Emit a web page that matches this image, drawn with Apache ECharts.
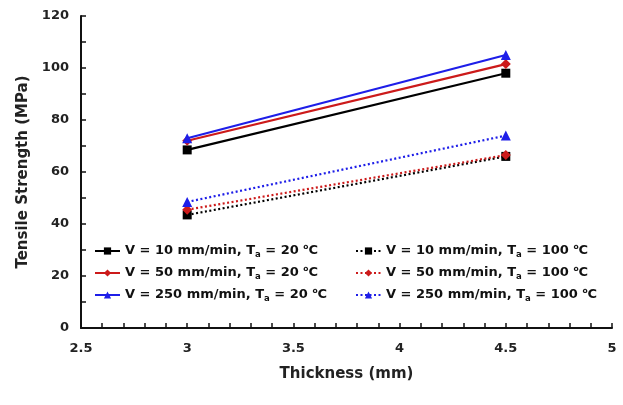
<!DOCTYPE html>
<html>
<head>
<meta charset="utf-8">
<script src="https://cdn.jsdelivr.net/npm/echarts@6/dist/echarts.min.js"></script>
<style>
  html, body { margin: 0; padding: 0; background: #fff; }
  #chart { width: 623px; height: 405px; }
</style>
</head>
<body>
<div id="chart"></div>
<script>
// thickness values (mm)
var thickness = [3, 4.5];

// tensile strength (MPa), Ta = 20 oC
var v10_20 = [68.5, 98];
var v50_20 = [72, 101.5];
var v250_20 = [73, 105];

// tensile strength (MPa), Ta = 100 oC
var v10_100 = [43.5, 66];
var v50_100 = [45.5, 66.5];
var v250_100 = [48.5, 74];

var names = [
    'V = 10 mm/min, T{sub|a} = 20 {sup|o}C',
    'V = 50 mm/min, T{sub|a} = 20 {sup|o}C',
    'V = 250 mm/min, T{sub|a} = 20 {sup|o}C',
    'V = 10 mm/min, T{sub|a} = 100 {sup|o}C',
    'V = 50 mm/min, T{sub|a} = 100 {sup|o}C',
    'V = 250 mm/min, T{sub|a} = 100 {sup|o}C'
];

function pairs(ys) {
    return thickness.map(function (x, i) { return [x, ys[i]]; });
}

function line(name, ys, color, symbol, dotted) {
    return {
        name: name,
        type: 'line',
        data: pairs(ys),
        symbol: symbol,
        symbolSize: symbol === 'rect' ? 9 : 10,
        itemStyle: { color: color },
        lineStyle: { color: color, width: 2.2, type: dotted ? [2, 2.5] : 'solid' },
        z: dotted ? 2 : 3
    };
}

var font = '"DejaVu Sans", Verdana, sans-serif';
var rich = {
    sub: { fontSize: 8.5, fontWeight: 'bold', fontFamily: font, color: '#111', verticalAlign: 'bottom', padding: [7, 0, 0, 0] },
    sup: { fontSize: 7.5, fontWeight: 'bold', fontFamily: font, color: '#111', verticalAlign: 'top', padding: [0, 0, 6, 0] }
};
var legendText = { fontSize: 13, fontWeight: 'bold', fontFamily: font, color: '#111', rich: rich };

var myChart = echarts.init(document.getElementById('chart'));

var option = {
    animation: false,
    grid: { left: 81, right: 11, top: 16, bottom: 77 },
    legend: [
        {
            data: names.slice(0, 3),
            orient: 'vertical',
            left: 89, top: 238,
            itemWidth: 25, itemHeight: 9, itemGap: 6,
            textStyle: legendText
        },
        {
            data: names.slice(3),
            orient: 'vertical',
            left: 350, top: 238,
            itemWidth: 25, itemHeight: 9, itemGap: 6,
            textStyle: legendText
        }
    ],
    xAxis: {
        type: 'value',
        min: 2.5, max: 5, interval: 0.5,
        name: 'Thickness (mm)',
        nameLocation: 'middle',
        nameGap: 39,
        nameTextStyle: { fontSize: 15, fontWeight: 'bold', fontFamily: font, color: '#222' },
        axisLine: { lineStyle: { color: '#111', width: 2 } },
        axisTick: { inside: true, length: 5, lineStyle: { color: '#111', width: 1.5 } },
        minorTick: { show: true, splitNumber: 5, length: 5, lineStyle: { color: '#111', width: 1.5 } },
        axisLabel: { fontSize: 13, fontWeight: 'bold', fontFamily: font, color: '#222', margin: 14 },
        splitLine: { show: false }
    },
    yAxis: {
        type: 'value',
        min: 0, max: 120, interval: 20,
        name: 'Tensile Strength (MPa)',
        nameLocation: 'middle',
        nameGap: 44,
        nameTextStyle: { fontSize: 15, fontWeight: 'bold', fontFamily: font, color: '#222' },
        axisLine: { show: true, lineStyle: { color: '#111', width: 2 } },
        axisTick: { show: true, inside: true, length: 5, lineStyle: { color: '#111', width: 1.5 } },
        minorTick: { show: true, splitNumber: 2, length: 5, lineStyle: { color: '#111', width: 1.5 } },
        axisLabel: { fontSize: 13, fontWeight: 'bold', fontFamily: font, color: '#222', margin: 12 },
        splitLine: { show: false }
    },
    series: [
        line(names[0], v10_20, '#000000', 'rect', false),
        line(names[1], v50_20, '#cc1a1a', 'diamond', false),
        line(names[2], v250_20, '#1e1ee8', 'triangle', false),
        line(names[3], v10_100, '#000000', 'rect', true),
        line(names[4], v50_100, '#cc1a1a', 'diamond', true),
        line(names[5], v250_100, '#1e1ee8', 'triangle', true)
    ]
};

myChart.setOption(option);
</script>
</body>
</html>
